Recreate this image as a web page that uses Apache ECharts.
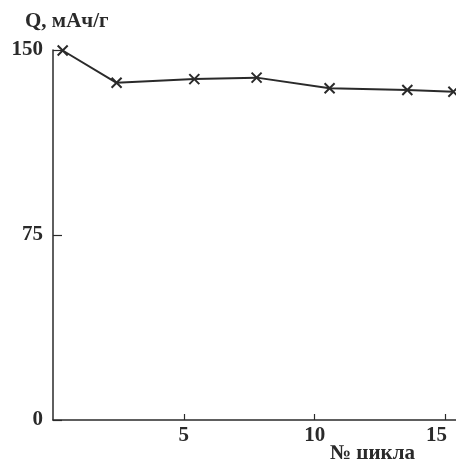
<!DOCTYPE html>
<html>
<head>
<meta charset="utf-8">
<script src="https://cdn.jsdelivr.net/npm/echarts@6/dist/echarts.min.js"></script>
<style>
html,body{margin:0;padding:0;background:#fff;}
#chart{width:456px;height:459px;}
</style>
</head>
<body>
<div id="chart"></div>
<script>
var cycles = [0.37, 2.43, 5.4, 7.78, 10.57, 13.54, 15.3];
var capacity = [149.8, 136.7, 138.2, 138.8, 134.5, 133.8, 133.1];
var yTicks = [0, 75, 150];
var xTicks = [5, 10, 15];
var yName = 'Q, мАч/г';
var xName = '№ цикла';

var data = cycles.map(function (c, i) { return [c, capacity[i]]; });
var font = 'Liberation Serif';
var ink = '#2a2a2a';

var chart = echarts.init(document.getElementById('chart'));
chart.setOption({
  backgroundColor: '#fff',
  animation: false,
  grid: { left: 53, right: 0, top: 50, bottom: 39 },
  xAxis: {
    type: 'value', min: 0, max: 15.4, interval: 5,
    axisLine: { lineStyle: { color: ink, width: 1.5 } },
    axisTick: { inside: true, length: 6, lineStyle: { color: ink, width: 1.2 } },
    axisLabel: {
      showMinLabel: false, showMaxLabel: false,
      fontFamily: font, fontWeight: 'bold', fontSize: 21, color: ink, margin: 5,
      formatter: function (v) {
        if (xTicks.indexOf(v) < 0) return '';
        return v === 15 ? '{r|' + v + '}' : String(v);
      },
      rich: { r: { fontFamily: font, fontWeight: 'bold', fontSize: 21, color: ink, padding: [0, 18, 0, 0] } }
    },
    splitLine: { show: false }
  },
  yAxis: {
    type: 'value', min: 0, max: 150, interval: 75,
    axisLine: { show: true, lineStyle: { color: ink, width: 1.5 } },
    axisTick: { show: true, inside: true, length: 9, lineStyle: { color: ink, width: 1.2 } },
    axisLabel: {
      fontFamily: font, fontWeight: 'bold', fontSize: 21, color: ink, margin: 10,
      formatter: function (v) { return yTicks.indexOf(v) >= 0 ? String(v) : ''; }
    },
    splitLine: { show: false }
  },
  graphic: [
    { type: 'text', left: 25, top: 11, style: { text: yName, font: 'bold 21px "Liberation Serif"', fill: ink } },
    { type: 'text', left: 330, top: 443, style: { text: xName, font: 'bold 21px "Liberation Serif"', fill: ink } }
  ],
  series: [{
    type: 'line',
    data: data,
    clip: false,
    symbol: 'path://M0,0L10,10M10,0L0,10',
    symbolSize: 10,
    lineStyle: { color: ink, width: 2 },
    itemStyle: { color: ink, borderColor: ink, borderWidth: 2 }
  }]
});
</script>
</body>
</html>
